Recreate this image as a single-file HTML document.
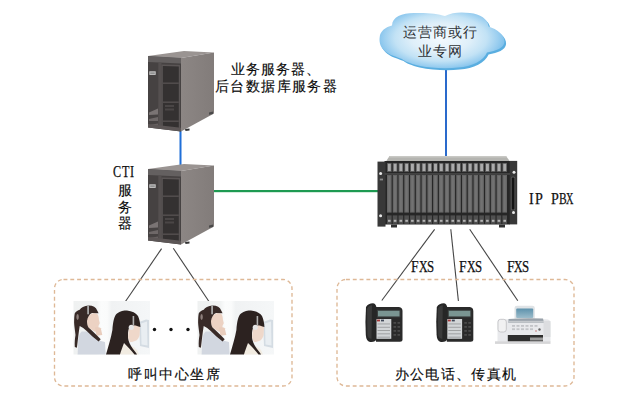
<!DOCTYPE html><html><head><meta charset="utf-8"><style>
body{margin:0;width:640px;height:400px;background:#fff;overflow:hidden;font-family:"Liberation Sans",sans-serif;position:relative}
svg{position:absolute;left:0;top:0}
.t{position:absolute;font-size:15px;line-height:17px;color:#0a0a0a;white-space:nowrap;-webkit-text-stroke:0.15px #0a0a0a}
.m{position:absolute;font-family:"Liberation Serif",serif;line-height:16px;color:#111;white-space:nowrap;height:16px;-webkit-text-stroke:0.25px #111}
.m span{position:absolute;top:0;text-align:center}
.m i{font-style:normal;display:inline-block}
</style></head><body>
<svg width="640" height="400" viewBox="0 0 640 400">
<defs>
<radialGradient id="cloudg" gradientUnits="userSpaceOnUse" cx="441" cy="38" r="66" gradientTransform="translate(441 38) scale(1 0.5) translate(-441 -38)">
<stop offset="0" stop-color="#f4fafe"/><stop offset="0.45" stop-color="#dfeff9"/><stop offset="0.7" stop-color="#c2e2f5"/><stop offset="0.86" stop-color="#9ccff0"/><stop offset="1" stop-color="#78bdea"/>
</radialGradient>
<linearGradient id="sideg" x1="0" y1="0" x2="1" y2="0">
<stop offset="0" stop-color="#8c8684"/><stop offset="1" stop-color="#827c7a"/>
</linearGradient>
<linearGradient id="bgph" x1="0" y1="0" x2="1" y2="0">
<stop offset="0" stop-color="#eff1f1"/><stop offset="0.3" stop-color="#f1f3f3"/><stop offset="0.36" stop-color="#fbfcfc"/><stop offset="0.44" stop-color="#fafbfb"/><stop offset="0.5" stop-color="#f0f2f3"/><stop offset="1" stop-color="#f5f7f8"/>
</linearGradient>
<g id="server">
<polygon points="148,56 184,51 214,52.5 181,58" fill="#9a9492"/>
<polygon points="181,58 214,52.5 214,113.5 181,131.5" fill="url(#sideg)"/>
<polygon points="148,56 181,58 181,131.5 148,127.5" fill="#464242"/>
<polygon points="148,56 181,58 181,63.5 148,62" fill="#646060"/>
<rect x="149.3" y="71.3" width="6.4" height="3.6" fill="#c8c8c8"/>
<rect x="150.2" y="72.5" width="4.6" height="1.2" fill="#7a7a7a"/>
<polygon points="158.3,63 161.5,63 161.5,128.8 158.3,128.6" fill="#555050"/>
<polygon points="161.5,64.5 180,65 180,129.8 161.5,128.8" fill="#5a5555"/>
<polygon points="162.8,66 178.8,66.5 178.8,128.5 162.8,127.8" fill="#343131"/>
<rect x="162.8" y="82.5" width="16" height="1.4" fill="#555050"/>
<rect x="162.8" y="101.5" width="16" height="1.4" fill="#555050"/>
<rect x="162.8" y="120.5" width="16" height="1.4" fill="#555050"/>
<rect x="165" y="105" width="9" height="2" fill="#4a4646"/>
<rect x="165" y="108.5" width="9" height="2" fill="#4a4646"/>
<polygon points="149,112.5 158,108.5 158,114.5 149,115" fill="#7a7474"/>
<polygon points="149,119 158,117 158,121 149,121" fill="#6e6868"/>
<polygon points="149,125 158,123.5 158,127.5 149,127" fill="#666060"/>
<polygon points="148,124 181,127.8 181,131.5 148,127.5" fill="#5c5656"/><polygon points="185,129 189.5,128.5 189.5,130.5 185.5,131" fill="#333"/>
<polygon points="209,112.5 213,111.5 213,114 209,114.8" fill="#4a4a4a"/>
</g>
<g id="agent">
<rect x="73.5" y="301" width="76.5" height="53.5" fill="url(#bgph)"/>
<path d="M139,322 L146,319.5 L149,320 L149,348 L140,346 Z" fill="#d4dce3"/>
<path d="M141,323.5 L147,321.5 L147.5,345.5 L141.5,344.5 Z" fill="#e9eef2"/>
<path d="M77.6,354.5 L78.3,339.3 C79,335 80,333 81.8,331.6 L87.4,331.6 C91,335 95,338.5 100,340.7 L105,342 L105.7,354.5 Z" fill="#d2d7e0"/>
<path d="M93,313.3 C95,313 97,313.5 97.8,314.5 C98.5,316 98.8,318 99,320 L99.8,323.2 L98.6,325.5 C98.5,327 98.2,329 97.5,330.5 C96.5,331.5 95.5,331.8 94.5,331.6 L88,327.3 C87,325 86.8,322 87,319.5 C87.4,317 89,314.5 93,313.3 Z" fill="#ecd2c3"/>
<path d="M95,327.5 C97.5,327 100,327.3 100.8,328.3 L102.3,335 L96.5,335.8 Z" fill="#e9cdbd"/>
<path d="M79.7,309.8 C81,307.5 84,306 88.8,305.6 C93,305.6 96,307.5 97.2,310.5 L98.6,313.3 L92,313 C89.5,314 87.5,317 87,321 C87,324 87.5,326 88.5,327.5 C92.5,331 97,335.5 100.7,339.3 L98.6,341.4 C94,338 90,334 86.7,330.9 L83.2,328 L79.7,326 C78.5,333 77.8,341 76.9,347.7 L74.8,347 C74.5,342 75,338 75.5,335 C75,330 74.2,326 74.1,322.4 C74.2,318 74.3,315.5 74.8,313.3 C76,311.5 78,310.5 79.7,309.8 Z" fill="#382a27"/>
<ellipse cx="77.6" cy="317" rx="1.2" ry="3" fill="#8e807c"/>
<rect x="87.2" y="305.3" width="1.8" height="9" fill="#a8a8a8"/>
<path d="M119,354.5 L123,343 C127,344 133,346 137,350 L139,354.5 Z" fill="#f1ebe1"/>
<path d="M129,325 C133,324 138,325 140,327 L139.6,335 C138.5,340 135,342 130,342 L128,338 Z" fill="#efd8ca"/>
<path d="M106,354.5 C108.5,346 111,338 112.4,330 C113,322 114,316 117,313.5 C120,311 124,310.5 127,310.5 C132,311 136,313 138,316 C139.5,319 140.2,323 140.4,327 L138.5,326.5 C136,325.5 133,325 130.5,325.5 C129,327 128.2,330 128,333 L128,338 C128.5,341 130,345 133,349 C135,351.5 136.5,353.5 137,354.5 L134.5,354.5 C131,350 127,346 124,343 C122.5,347 121,351 120,354.5 Z" fill="#2c2220"/>
<circle cx="131.3" cy="327.3" r="2.6" fill="#e6e6e6"/>
<rect x="132.6" y="316" width="1.6" height="9.5" fill="#b0b0b0"/>
</g>
<g id="phone">
<path d="M375,307 L399,307 Q402.5,307.5 402.5,311 L402.5,340 Q402.5,341.8 400,341.8 L376,341.8 Z" fill="#2a2a2a"/>
<rect x="377" y="309.8" width="23.5" height="7.6" fill="#3a3e3e"/>
<rect x="378" y="310.8" width="21.5" height="5.6" fill="#7a9592"/>
<rect x="376" y="319" width="15.3" height="19.8" fill="#d2d5d7"/>
<g fill="#9a9c9e"><rect x="377.5" y="323.5" width="12.5" height="0.9"/><rect x="377.5" y="326.8" width="12.5" height="0.9"/><rect x="377.5" y="330.1" width="12.5" height="0.9"/><rect x="377.5" y="333.4" width="12.5" height="0.9"/><rect x="377.5" y="336.7" width="12.5" height="0.9"/></g>
<rect x="377" y="319.6" width="3" height="1.8" fill="#a83838"/>
<rect x="381" y="319.6" width="3" height="1.8" fill="#404858"/>
<g fill="#4a4a4a"><rect x="393.5" y="322" width="2.6" height="1.8"/><rect x="397.5" y="322" width="2.6" height="1.8"/><rect x="393.5" y="326" width="2.6" height="1.8"/><rect x="397.5" y="326" width="2.6" height="1.8"/><rect x="393.5" y="330" width="2.6" height="1.8"/><rect x="397.5" y="330" width="2.6" height="1.8"/><rect x="393.5" y="334" width="2.6" height="1.8"/><rect x="397.5" y="334" width="2.6" height="1.8"/></g>
<path d="M366,307 Q368.5,303 374,303.4 Q376,304 376.5,308 L376.5,339 Q375.5,342.5 370,342 Q366.2,341 365.8,335 Q365,322 366,307 Z" fill="#262626"/>
<path d="M367,309 Q368.5,305.5 372,305.3 L371.5,339 Q368,338.5 367.4,335 Z" fill="#3a3a3a"/>
</g>
</defs>

<!-- lines -->
<rect x="179.5" y="130" width="2" height="39" fill="#1f6fd8"/>
<rect x="445" y="69" width="2" height="87" fill="#2a6acc"/>
<rect x="214" y="190" width="164" height="2.2" fill="#1e9a52"/>
<g stroke="#454545" stroke-width="1.1" fill="none">
<line x1="161.6" y1="248.6" x2="125.6" y2="301.2"/>
<line x1="173.3" y1="248.3" x2="208.8" y2="301.2"/>
<line x1="434.6" y1="229.3" x2="381.8" y2="300.5"/>
<line x1="450.8" y1="229.3" x2="458.4" y2="301"/>
<line x1="469.7" y1="229.3" x2="517.8" y2="300.8"/>
</g>

<!-- dashed boxes -->
<g fill="none" stroke="#deb896" stroke-width="1.35" stroke-dasharray="3.9 2.9">
<rect x="54.5" y="279.5" width="237.5" height="106.5" rx="9"/>
<rect x="337" y="279.5" width="237" height="106.5" rx="9"/>
</g>

<!-- servers -->
<use href="#server"/>
<use href="#server" transform="translate(0,113)"/>

<!-- cloud -->
<path id="cl" d="M379.7,37.3 C380,31 386,27 392,25.5 C392,17 402,13 414,13 C426,12.5 438,13.5 445,16 C452,12 462,12 470,13 C480,14 488,19 488.6,26.4 C497,29 505,35 504.5,42 C504,48 496,51 487,52.4 C484,60 472,67 458,67.5 C446,69 430,68 418,65.5 C410,63.5 404,61 402,59 C394,56 386,54 382,48 C379.5,44.5 379.3,40 379.7,37.3 Z" fill="#5aaee0" transform="translate(1.6,2.1)"/>
<path d="M379.7,37.3 C380,31 386,27 392,25.5 C392,17 402,13 414,13 C426,12.5 438,13.5 445,16 C452,12 462,12 470,13 C480,14 488,19 488.6,26.4 C497,29 505,35 504.5,42 C504,48 496,51 487,52.4 C484,60 472,67 458,67.5 C446,69 430,68 418,65.5 C410,63.5 404,61 402,59 C394,56 386,54 382,48 C379.5,44.5 379.3,40 379.7,37.3 Z" fill="url(#cloudg)"/>

<!-- PBX -->
<polygon points="386,161.5 389.5,156 506,156 510,161.5" fill="#b4b4b0"/>
<polygon points="389.5,156 506,156 507,157.5 389,157.5" fill="#c8c8c4"/>
<rect x="384.5" y="161" width="125.5" height="63.5" fill="#262626"/>
<rect x="377.5" y="161.6" width="8" height="65" fill="#383838"/>
<rect x="509.7" y="160.9" width="7.5" height="63.5" fill="#383838"/>
<circle cx="380.6" cy="173.6" r="1.5" fill="#e8e8e8"/><circle cx="380.6" cy="215.8" r="1.5" fill="#e8e8e8"/>
<rect x="379.8" y="178.6" width="3.2" height="1.8" fill="#8a8a8a"/>
<circle cx="514" cy="172.3" r="1.5" fill="#e8e8e8"/><circle cx="513.5" cy="212.6" r="1.5" fill="#e8e8e8"/>
<rect x="510.8" y="176.5" width="4.6" height="34" rx="1.5" fill="#555"/>
<rect x="511.8" y="177.5" width="2.6" height="32" rx="1" fill="#141414"/>
<rect x="384.5" y="173.2" width="125.5" height="1.5" fill="#4a4a4a"/>
<g><rect x="387.00" y="163" width="4.6" height="9" fill="#5a5a5a"/><rect x="387.90" y="163.8" width="2.9" height="7.2" fill="#ababab"/><rect x="387.00" y="175" width="4.6" height="37.6" fill="#666666"/><rect x="388.20" y="176" width="2.2" height="35.6" fill="#727272"/><rect x="387.00" y="215.4" width="4.6" height="8.4" fill="#505050"/><rect x="388.00" y="219.8" width="2.6" height="2" fill="#b4b4b4"/><rect x="392.77" y="163" width="4.6" height="9" fill="#5a5a5a"/><rect x="393.67" y="163.8" width="2.9" height="7.2" fill="#ababab"/><rect x="392.77" y="175" width="4.6" height="37.6" fill="#666666"/><rect x="393.97" y="176" width="2.2" height="35.6" fill="#727272"/><rect x="392.77" y="215.4" width="4.6" height="8.4" fill="#505050"/><rect x="393.77" y="219.8" width="2.6" height="2" fill="#b4b4b4"/><rect x="398.54" y="163" width="4.6" height="9" fill="#5a5a5a"/><rect x="399.44" y="163.8" width="2.9" height="7.2" fill="#ababab"/><rect x="398.54" y="175" width="4.6" height="37.6" fill="#666666"/><rect x="399.74" y="176" width="2.2" height="35.6" fill="#727272"/><rect x="398.54" y="215.4" width="4.6" height="8.4" fill="#505050"/><rect x="399.54" y="219.8" width="2.6" height="2" fill="#b4b4b4"/><rect x="404.31" y="163" width="4.6" height="9" fill="#5a5a5a"/><rect x="405.21" y="163.8" width="2.9" height="7.2" fill="#ababab"/><rect x="404.31" y="175" width="4.6" height="37.6" fill="#666666"/><rect x="405.51" y="176" width="2.2" height="35.6" fill="#727272"/><rect x="404.31" y="215.4" width="4.6" height="8.4" fill="#505050"/><rect x="405.31" y="219.8" width="2.6" height="2" fill="#b4b4b4"/><rect x="410.08" y="163" width="4.6" height="9" fill="#5a5a5a"/><rect x="410.98" y="163.8" width="2.9" height="7.2" fill="#ababab"/><rect x="410.08" y="175" width="4.6" height="37.6" fill="#666666"/><rect x="411.28" y="176" width="2.2" height="35.6" fill="#727272"/><rect x="410.08" y="215.4" width="4.6" height="8.4" fill="#505050"/><rect x="411.08" y="219.8" width="2.6" height="2" fill="#b4b4b4"/><rect x="415.85" y="163" width="4.6" height="9" fill="#5a5a5a"/><rect x="416.75" y="163.8" width="2.9" height="7.2" fill="#ababab"/><rect x="415.85" y="175" width="4.6" height="37.6" fill="#666666"/><rect x="417.05" y="176" width="2.2" height="35.6" fill="#727272"/><rect x="415.85" y="215.4" width="4.6" height="8.4" fill="#505050"/><rect x="416.85" y="219.8" width="2.6" height="2" fill="#b4b4b4"/><rect x="421.62" y="163" width="4.6" height="9" fill="#5a5a5a"/><rect x="422.52" y="163.8" width="2.9" height="7.2" fill="#ababab"/><rect x="421.62" y="175" width="4.6" height="37.6" fill="#666666"/><rect x="422.82" y="176" width="2.2" height="35.6" fill="#727272"/><rect x="421.62" y="215.4" width="4.6" height="8.4" fill="#505050"/><rect x="422.62" y="219.8" width="2.6" height="2" fill="#b4b4b4"/><rect x="427.39" y="163" width="4.6" height="9" fill="#5a5a5a"/><rect x="428.29" y="163.8" width="2.9" height="7.2" fill="#ababab"/><rect x="427.39" y="175" width="4.6" height="37.6" fill="#666666"/><rect x="428.59" y="176" width="2.2" height="35.6" fill="#727272"/><rect x="427.39" y="215.4" width="4.6" height="8.4" fill="#505050"/><rect x="428.39" y="219.8" width="2.6" height="2" fill="#b4b4b4"/><rect x="433.16" y="163" width="4.6" height="9" fill="#5a5a5a"/><rect x="434.06" y="163.8" width="2.9" height="7.2" fill="#ababab"/><rect x="433.16" y="175" width="4.6" height="37.6" fill="#666666"/><rect x="434.36" y="176" width="2.2" height="35.6" fill="#727272"/><rect x="433.16" y="215.4" width="4.6" height="8.4" fill="#505050"/><rect x="434.16" y="219.8" width="2.6" height="2" fill="#b4b4b4"/><rect x="438.93" y="163" width="4.6" height="9" fill="#5a5a5a"/><rect x="439.83" y="163.8" width="2.9" height="7.2" fill="#ababab"/><rect x="438.93" y="175" width="4.6" height="37.6" fill="#666666"/><rect x="440.13" y="176" width="2.2" height="35.6" fill="#727272"/><rect x="438.93" y="215.4" width="4.6" height="8.4" fill="#505050"/><rect x="439.93" y="219.8" width="2.6" height="2" fill="#b4b4b4"/><rect x="444.70" y="163" width="4.6" height="9" fill="#5a5a5a"/><rect x="445.60" y="163.8" width="2.9" height="7.2" fill="#ababab"/><rect x="444.70" y="175" width="4.6" height="37.6" fill="#666666"/><rect x="445.90" y="176" width="2.2" height="35.6" fill="#727272"/><rect x="444.70" y="215.4" width="4.6" height="8.4" fill="#505050"/><rect x="445.70" y="219.8" width="2.6" height="2" fill="#b4b4b4"/><rect x="450.47" y="163" width="4.6" height="9" fill="#5a5a5a"/><rect x="451.37" y="163.8" width="2.9" height="7.2" fill="#ababab"/><rect x="450.47" y="175" width="4.6" height="37.6" fill="#666666"/><rect x="451.67" y="176" width="2.2" height="35.6" fill="#727272"/><rect x="450.47" y="215.4" width="4.6" height="8.4" fill="#505050"/><rect x="451.47" y="219.8" width="2.6" height="2" fill="#b4b4b4"/><rect x="456.24" y="163" width="4.6" height="9" fill="#5a5a5a"/><rect x="457.14" y="163.8" width="2.9" height="7.2" fill="#ababab"/><rect x="456.24" y="175" width="4.6" height="37.6" fill="#666666"/><rect x="457.44" y="176" width="2.2" height="35.6" fill="#727272"/><rect x="456.24" y="215.4" width="4.6" height="8.4" fill="#505050"/><rect x="457.24" y="219.8" width="2.6" height="2" fill="#b4b4b4"/><rect x="462.01" y="163" width="4.6" height="9" fill="#5a5a5a"/><rect x="462.91" y="163.8" width="2.9" height="7.2" fill="#ababab"/><rect x="462.01" y="175" width="4.6" height="37.6" fill="#666666"/><rect x="463.21" y="176" width="2.2" height="35.6" fill="#727272"/><rect x="462.01" y="215.4" width="4.6" height="8.4" fill="#505050"/><rect x="463.01" y="219.8" width="2.6" height="2" fill="#b4b4b4"/><rect x="467.78" y="163" width="4.6" height="9" fill="#5a5a5a"/><rect x="468.68" y="163.8" width="2.9" height="7.2" fill="#ababab"/><rect x="467.78" y="175" width="4.6" height="37.6" fill="#666666"/><rect x="468.98" y="176" width="2.2" height="35.6" fill="#727272"/><rect x="467.78" y="215.4" width="4.6" height="8.4" fill="#505050"/><rect x="468.78" y="219.8" width="2.6" height="2" fill="#b4b4b4"/><rect x="473.55" y="163" width="4.6" height="9" fill="#5a5a5a"/><rect x="474.45" y="163.8" width="2.9" height="7.2" fill="#ababab"/><rect x="473.55" y="175" width="4.6" height="37.6" fill="#666666"/><rect x="474.75" y="176" width="2.2" height="35.6" fill="#727272"/><rect x="473.55" y="215.4" width="4.6" height="8.4" fill="#505050"/><rect x="474.55" y="219.8" width="2.6" height="2" fill="#b4b4b4"/><rect x="479.32" y="163" width="4.6" height="9" fill="#5a5a5a"/><rect x="480.22" y="163.8" width="2.9" height="7.2" fill="#ababab"/><rect x="479.32" y="175" width="4.6" height="37.6" fill="#666666"/><rect x="480.52" y="176" width="2.2" height="35.6" fill="#727272"/><rect x="479.32" y="215.4" width="4.6" height="8.4" fill="#505050"/><rect x="480.32" y="219.8" width="2.6" height="2" fill="#b4b4b4"/><rect x="485.09" y="163" width="4.6" height="9" fill="#5a5a5a"/><rect x="485.99" y="163.8" width="2.9" height="7.2" fill="#ababab"/><rect x="485.09" y="175" width="4.6" height="37.6" fill="#666666"/><rect x="486.29" y="176" width="2.2" height="35.6" fill="#727272"/><rect x="485.09" y="215.4" width="4.6" height="8.4" fill="#505050"/><rect x="486.09" y="219.8" width="2.6" height="2" fill="#b4b4b4"/><rect x="490.86" y="163" width="4.6" height="9" fill="#5a5a5a"/><rect x="491.76" y="163.8" width="2.9" height="7.2" fill="#ababab"/><rect x="490.86" y="175" width="4.6" height="37.6" fill="#666666"/><rect x="492.06" y="176" width="2.2" height="35.6" fill="#727272"/><rect x="490.86" y="215.4" width="4.6" height="8.4" fill="#505050"/><rect x="491.86" y="219.8" width="2.6" height="2" fill="#b4b4b4"/><rect x="496.63" y="163" width="4.6" height="9" fill="#5a5a5a"/><rect x="497.53" y="163.8" width="2.9" height="7.2" fill="#ababab"/><rect x="496.63" y="175" width="4.6" height="37.6" fill="#666666"/><rect x="497.83" y="176" width="2.2" height="35.6" fill="#727272"/><rect x="496.63" y="215.4" width="4.6" height="8.4" fill="#505050"/><rect x="497.63" y="219.8" width="2.6" height="2" fill="#b4b4b4"/><rect x="502.40" y="163" width="4.6" height="9" fill="#5a5a5a"/><rect x="503.30" y="163.8" width="2.9" height="7.2" fill="#ababab"/><rect x="502.40" y="175" width="4.6" height="37.6" fill="#666666"/><rect x="503.60" y="176" width="2.2" height="35.6" fill="#727272"/><rect x="502.40" y="215.4" width="4.6" height="8.4" fill="#505050"/><rect x="503.40" y="219.8" width="2.6" height="2" fill="#b4b4b4"/></g>
<rect x="391" y="224.5" width="6" height="3" fill="#303030"/><rect x="499" y="224.5" width="6" height="3" fill="#303030"/>

<!-- phones -->
<use href="#phone"/>
<use href="#phone" transform="translate(70.8,0)"/>

<!-- fax -->
<defs><linearGradient id="glass" x1="0" y1="0" x2="0" y2="1"><stop offset="0" stop-color="#5e92ac"/><stop offset="1" stop-color="#9cbccb"/></linearGradient></defs>
<path d="M514.5,318.5 L514.5,308 Q514.5,305.8 517,305.8 L532.3,305.8 Q534.8,305.8 534.8,308 L534.8,318.5 Z" fill="#dfe3e6"/>
<rect x="516.2" y="308.6" width="17" height="9.4" rx="1" fill="url(#glass)"/>
<path d="M497.5,322 Q497.5,319.3 500,319.3 L546,319.3 Q550.5,319.5 550.5,323 L550.5,341.8 L497.5,341.8 Z" fill="#e8e9ec"/>
<path d="M508.5,319 Q525,317.8 543,318.6 L544,323 L508.5,323 Z" fill="#9aa2aa"/>
<rect x="509" y="320.8" width="34.5" height="2" fill="#c4c8cc"/>
<g fill="#c2c4c8"><rect x="512" y="325" width="3" height="1.8"/><rect x="516.5" y="325" width="3" height="1.8"/><rect x="521" y="325" width="3" height="1.8"/><rect x="525.5" y="325" width="3" height="1.8"/><rect x="530" y="325" width="3" height="1.8"/><rect x="534.5" y="325" width="3" height="1.8"/><rect x="512" y="328.3" width="3" height="1.8"/><rect x="516.5" y="328.3" width="3" height="1.8"/><rect x="521" y="328.3" width="3" height="1.8"/><rect x="525.5" y="328.3" width="3" height="1.8"/><rect x="530" y="328.3" width="3" height="1.8"/></g>
<circle cx="539.5" cy="329.5" r="1.2" fill="#6a6a6a"/><circle cx="536" cy="331" r="0.8" fill="#c07070"/>
<rect x="543.5" y="321" width="7" height="16" fill="#dcdde0"/>
<rect x="498" y="319.3" width="8.3" height="12.7" rx="2.6" fill="#f1f1f2" stroke="#b8b8bc" stroke-width="0.7"/>
<rect x="507.8" y="335" width="35.2" height="6.8" fill="#2e2e2e"/>
<rect x="530" y="337.5" width="13" height="3" fill="#9a9a9a"/>
<rect x="495" y="341.3" width="55.5" height="2.6" fill="#d6d6d8"/>
</svg>
<svg width="640" height="400" viewBox="0 0 640 400">
<use href="#agent"/>
<use href="#agent" transform="translate(124,0)"/>
<circle cx="154.5" cy="329.5" r="1.7" fill="#111"/>
<circle cx="171" cy="329.5" r="1.7" fill="#111"/>
<circle cx="188" cy="329.5" r="1.7" fill="#111"/>
</svg>

<div class="t" style="left:230.5px;top:61px;font-size:14px;letter-spacing:1.1px">业务服务器、</div>
<div class="t" style="left:215px;top:78px;font-size:14px;letter-spacing:1.4px">后台数据库服务器</div>
<div class="t" style="left:402.5px;top:24px;color:#2e3236;-webkit-text-stroke:0px;font-size:14px;letter-spacing:1.1px">运营商或行</div>
<div class="t" style="left:417.5px;top:43px;color:#2e3236;-webkit-text-stroke:0px;font-size:14px;letter-spacing:1.1px">业专网</div>
<div class="t" style="left:117.5px;top:183px;font-size:13.5px;line-height:16.5px;width:15px">服<br>务<br>器</div>
<div class="m" style="left:0px;top:164px;font-size:16px"><span style="left:112.80px"><i style="transform:scaleX(0.76);transform-origin:0 50%">C</i></span><span style="left:121.80px"><i style="transform:scaleX(0.76);transform-origin:0 50%">T</i></span><span style="left:129.80px"><i style="transform:scaleX(0.76);transform-origin:0 50%">I</i></span></div><div class="m" style="left:0px;top:191.3px;font-size:16px"><span style="left:528.60px"><i style="transform:scaleX(0.88);transform-origin:0 50%">I</i></span><span style="left:534.60px"><i style="transform:scaleX(0.88);transform-origin:0 50%">P</i></span><span style="left:551.20px"><i style="transform:scaleX(0.88);transform-origin:0 50%">P</i></span><span style="left:559.00px"><i style="transform:scaleX(0.72);transform-origin:0 50%">B</i></span><span style="left:566.00px"><i style="transform:scaleX(0.64);transform-origin:0 50%">X</i></span></div><div class="m" style="left:0px;top:259.4px;font-size:16px"><span style="left:411.30px"><i style="transform:scaleX(0.85);transform-origin:0 50%">F</i></span><span style="left:418.90px"><i style="transform:scaleX(0.74);transform-origin:0 50%">X</i></span><span style="left:427.00px"><i style="transform:scaleX(0.8);transform-origin:0 50%">S</i></span></div><div class="m" style="left:0px;top:259.4px;font-size:16px"><span style="left:458.90px"><i style="transform:scaleX(0.85);transform-origin:0 50%">F</i></span><span style="left:466.50px"><i style="transform:scaleX(0.74);transform-origin:0 50%">X</i></span><span style="left:474.60px"><i style="transform:scaleX(0.8);transform-origin:0 50%">S</i></span></div><div class="m" style="left:0px;top:259.4px;font-size:16px"><span style="left:506.70px"><i style="transform:scaleX(0.85);transform-origin:0 50%">F</i></span><span style="left:514.30px"><i style="transform:scaleX(0.74);transform-origin:0 50%">X</i></span><span style="left:522.40px"><i style="transform:scaleX(0.8);transform-origin:0 50%">S</i></span></div>
<div class="t" style="left:128px;top:366px;font-size:14px;letter-spacing:1.5px">呼叫中心坐席</div>
<div class="t" style="left:394.5px;top:366px;font-size:14px;letter-spacing:1.35px">办公电话、传真机</div>
</body></html>
